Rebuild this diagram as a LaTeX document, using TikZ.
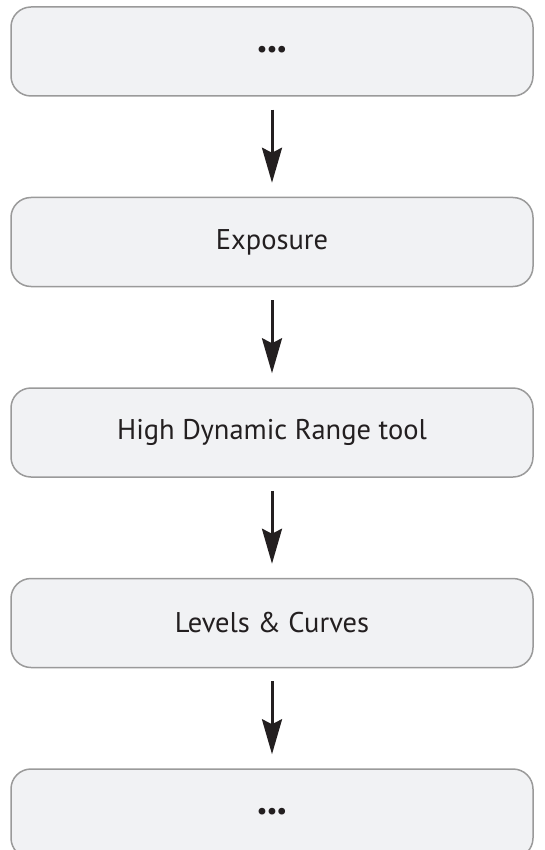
\documentclass[tikz,border=0pt]{standalone}
\usepackage{fontspec}
\setmainfont{PT Sans}
\usetikzlibrary{arrows.meta,positioning}
\definecolor{boxfill}{HTML}{F1F2F4}
\definecolor{boxline}{HTML}{9A9A9A}
\definecolor{ink}{HTML}{231F20}
\begin{document}
\begin{tikzpicture}[x=1pt,y=1pt,font=\fontsize{28.5}{32}\selectfont,
  stage/.style={draw=boxline,line width=1.5pt,fill=boxfill,rounded corners=20pt,
    minimum width=522pt,minimum height=89pt,inner sep=0pt,text=ink},
  dots/.style={stage,font=\fontsize{22}{26}\selectfont\bfseries},
  flow/.style={-{Stealth[length=35pt,width=20pt,inset=5pt]},line width=3pt,ink,
    shorten <=13pt,shorten >=14pt},
  node distance=100pt]
\useasboundingbox (0,0) rectangle (544,-850);
\node[dots] (first) at (272,-51.5) {•••};
\node[stage,below=of first] (exposure) {Exposure};
\node[stage,below=of exposure] (hdr) {High Dynamic Range tool};
\node[stage,below=of hdr] (levels) {Levels \& Curves};
\node[dots,below=of levels] (last) {•••};
\draw[flow] (first) -- (exposure);
\draw[flow] (exposure) -- (hdr);
\draw[flow] (hdr) -- (levels);
\draw[flow] (levels) -- (last);
\end{tikzpicture}
\end{document}
